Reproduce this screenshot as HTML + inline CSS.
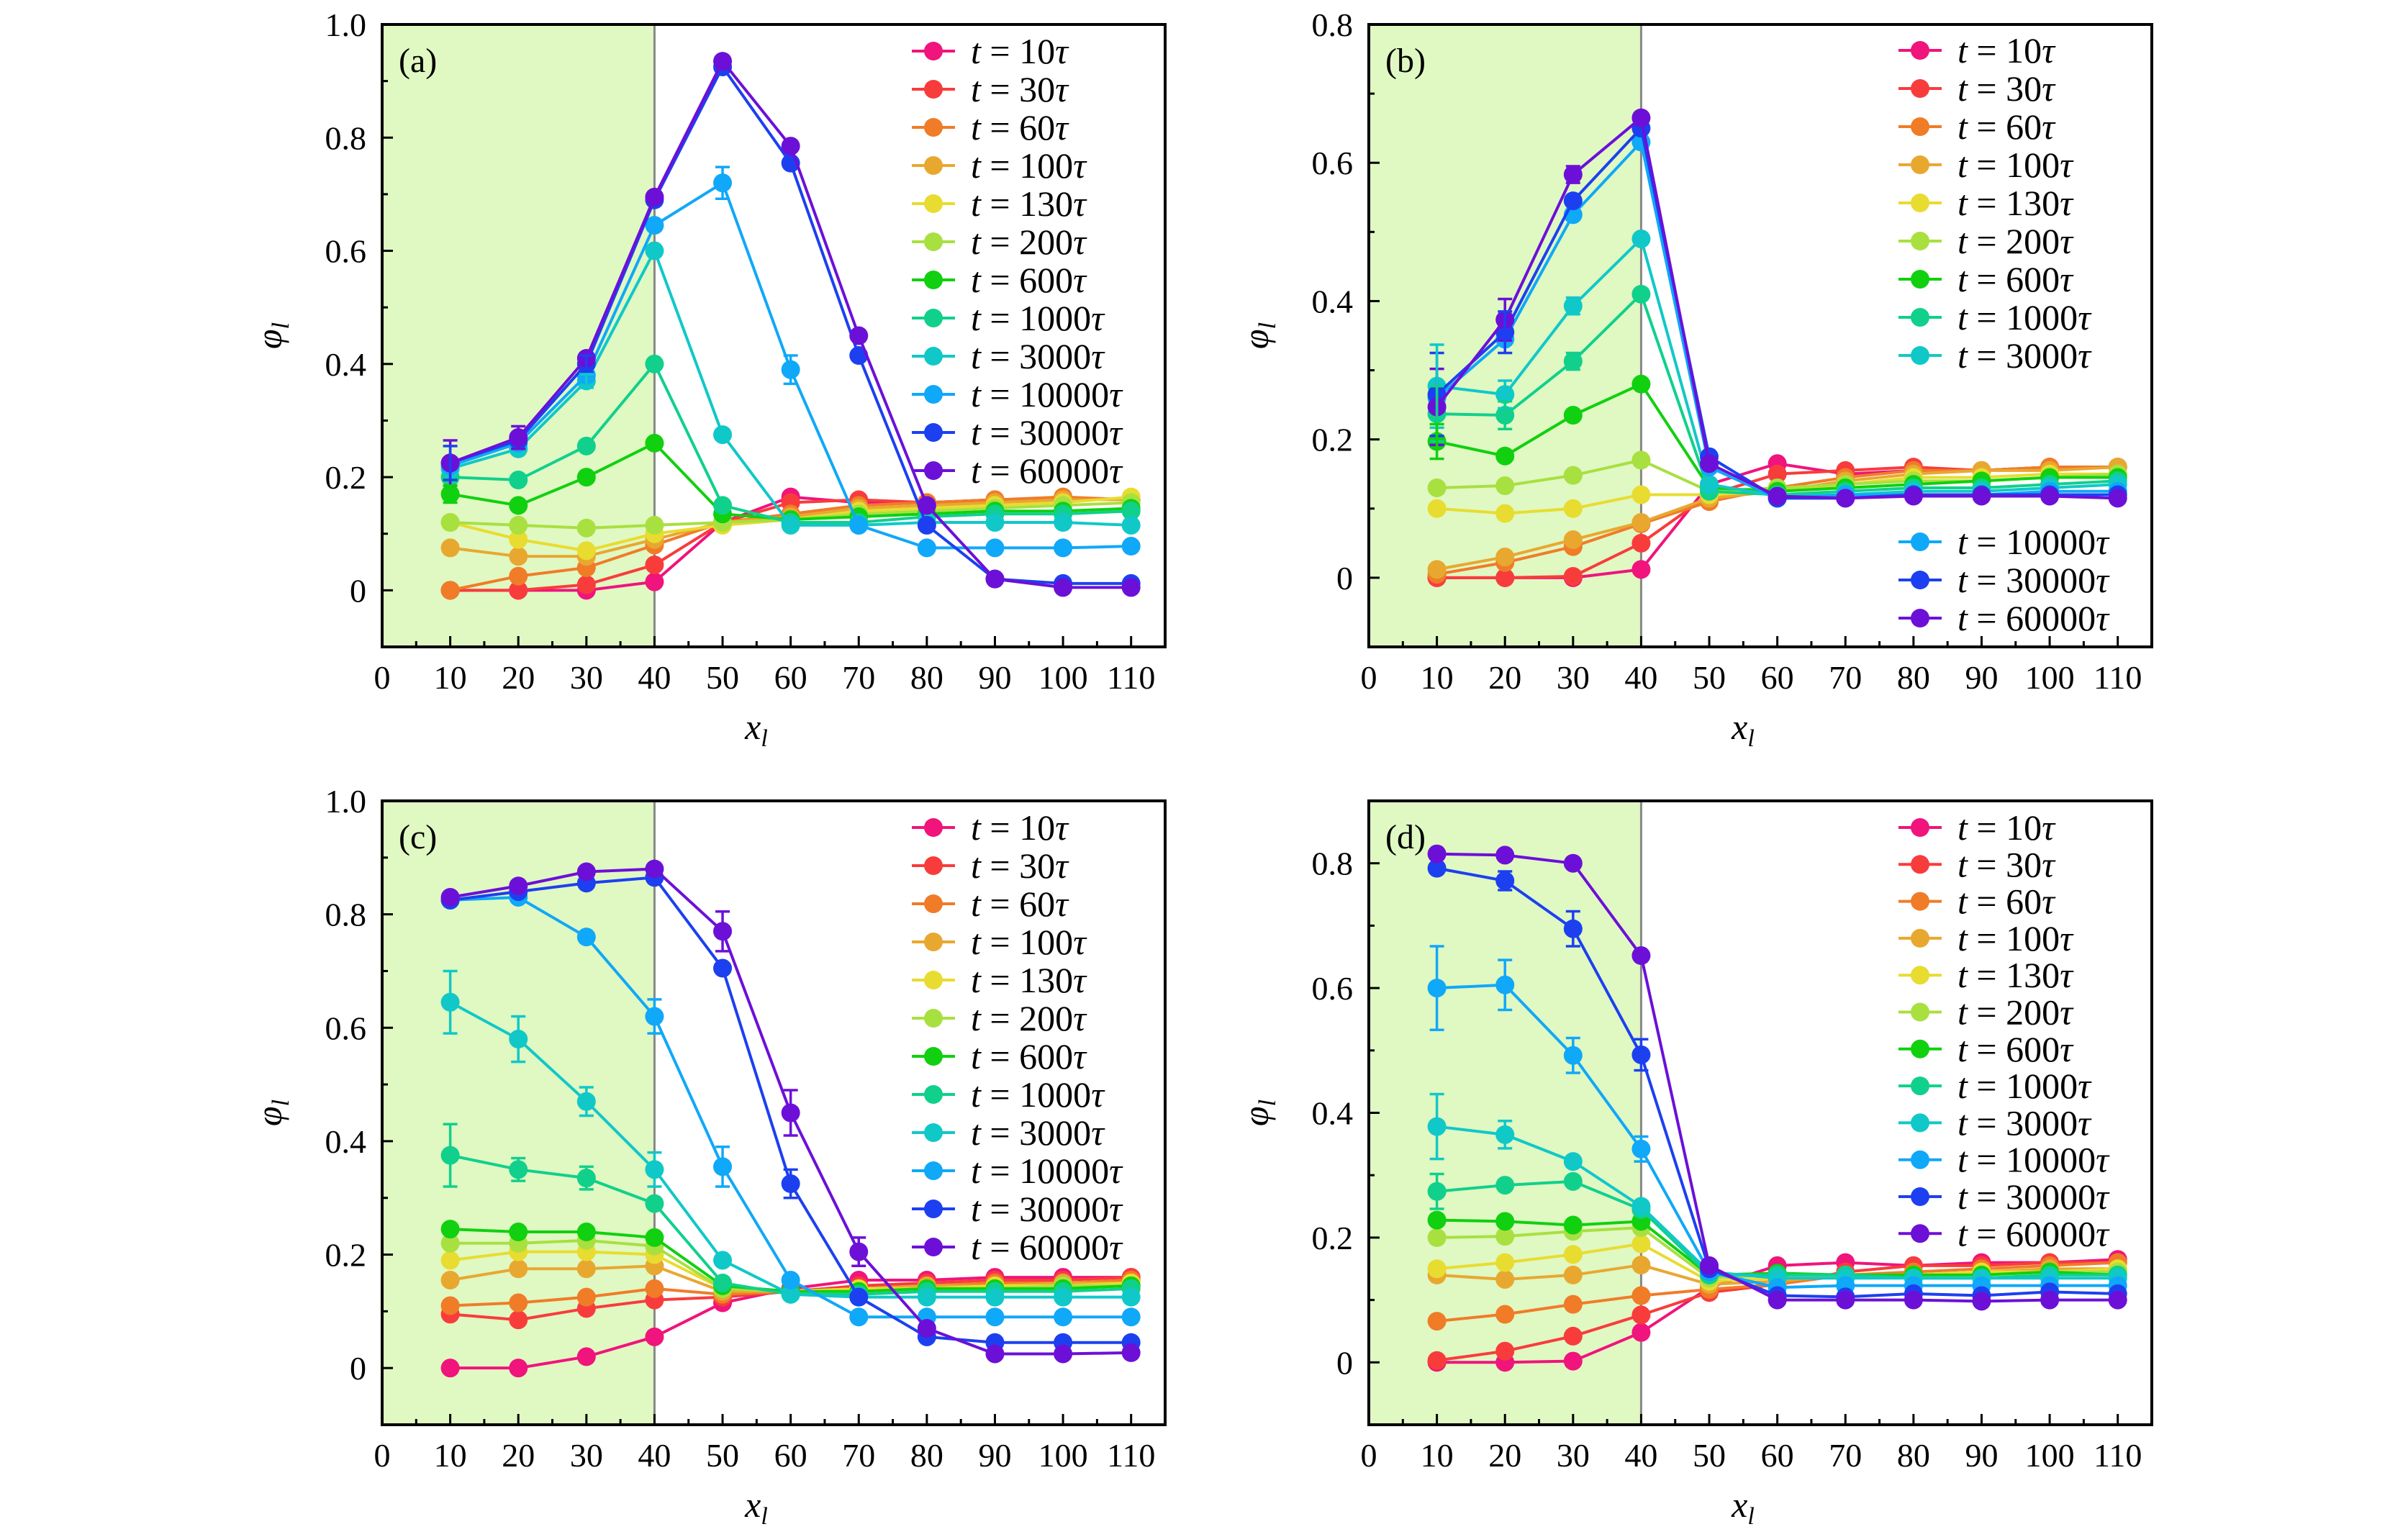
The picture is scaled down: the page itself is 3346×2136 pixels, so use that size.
<!DOCTYPE html>
<html><head><meta charset="utf-8"><style>
html,body{margin:0;padding:0;background:#fff}
svg{display:block}
text{font-family:"Liberation Serif",serif}
</style></head><body>
<svg id="fig" width="3346" height="2136" viewBox="0 0 3346 2136" xmlns="http://www.w3.org/2000/svg"></svg>
<script>
const xCats=[10,20,30,40,50,60,70,80,90,100,110];
const seriesLabels=["10","30","60","100","130","200","600","1000","3000","10000","30000","60000"];
const colors=["#f0147c","#f83c3c","#f07c28","#e8a830","#e8dc30","#a8e040","#10d010","#10d08c","#10c8c8","#10a8f8","#1c40f0","#6c10d8"];
const xTicks=[0,10,20,30,40,50,60,70,80,90,100,110];
const yTicksA=[0,0.2,0.4,0.6,0.8,1.0];
const yTicksB=[0,0.2,0.4,0.6,0.8];
const dataA=[
[0,0,0,0.015,0.12,0.165,0.155,0.155,0.16,0.16,0.16],
[0,0,0.01,0.045,0.12,0.155,0.16,0.155,0.16,0.16,0.16],
[0,0.025,0.04,0.08,0.12,0.135,0.15,0.155,0.16,0.165,0.16],
[0.075,0.06,0.06,0.09,0.12,0.13,0.145,0.15,0.155,0.16,0.16],
[0.12,0.09,0.07,0.1,0.115,0.125,0.14,0.145,0.15,0.155,0.165],
[0.12,0.115,0.11,0.115,0.12,0.125,0.135,0.14,0.145,0.15,0.155],
[0.17,0.15,0.2,0.26,0.135,0.125,0.13,0.135,0.14,0.14,0.145],
[0.2,0.195,0.255,0.4,0.15,0.12,0.12,0.13,0.135,0.135,0.14],
[0.215,0.25,0.37,0.6,0.275,0.115,0.115,0.12,0.12,0.12,0.115],
[0.22,0.26,0.38,0.645,0.72,0.39,0.115,0.075,0.075,0.075,0.078],
[0.225,0.265,0.4,0.69,0.925,0.755,0.415,0.115,0.02,0.012,0.012],
[0.225,0.27,0.41,0.695,0.935,0.785,0.45,0.15,0.02,0.005,0.005]];
const dataB=[
[0,0,0,0.012,0.135,0.165,0.15,0.155,0.155,0.16,0.16],
[0,0,0.002,0.05,0.12,0.15,0.155,0.16,0.155,0.16,0.16],
[0.005,0.022,0.045,0.078,0.11,0.13,0.145,0.155,0.155,0.16,0.16],
[0.012,0.03,0.055,0.08,0.115,0.125,0.14,0.15,0.155,0.155,0.16],
[0.1,0.093,0.1,0.12,0.12,0.125,0.135,0.145,0.145,0.15,0.15],
[0.13,0.133,0.148,0.17,0.125,0.13,0.135,0.14,0.14,0.145,0.15],
[0.197,0.176,0.235,0.28,0.13,0.125,0.13,0.135,0.14,0.145,0.145],
[0.237,0.235,0.313,0.41,0.125,0.12,0.125,0.13,0.13,0.135,0.14],
[0.277,0.265,0.393,0.49,0.135,0.118,0.12,0.125,0.125,0.13,0.135],
[0.26,0.345,0.525,0.63,0.16,0.115,0.12,0.12,0.12,0.125,0.125],
[0.265,0.355,0.545,0.65,0.175,0.115,0.115,0.12,0.12,0.12,0.12],
[0.247,0.373,0.583,0.665,0.165,0.118,0.115,0.118,0.118,0.118,0.115]];
const dataC=[
[0,0,0.02,0.055,0.115,0.14,0.155,0.155,0.16,0.16,0.16],
[0.095,0.085,0.105,0.12,0.125,0.135,0.145,0.15,0.155,0.155,0.16],
[0.11,0.115,0.125,0.14,0.13,0.135,0.14,0.145,0.15,0.15,0.155],
[0.155,0.175,0.175,0.18,0.135,0.135,0.14,0.145,0.145,0.15,0.15],
[0.19,0.205,0.205,0.2,0.14,0.135,0.14,0.14,0.145,0.145,0.15],
[0.22,0.22,0.225,0.215,0.14,0.135,0.135,0.14,0.14,0.145,0.145],
[0.245,0.24,0.24,0.23,0.145,0.135,0.135,0.14,0.14,0.14,0.145],
[0.375,0.35,0.335,0.29,0.15,0.13,0.13,0.135,0.135,0.135,0.14],
[0.645,0.58,0.47,0.35,0.19,0.13,0.125,0.125,0.125,0.125,0.125],
[0.825,0.83,0.76,0.62,0.355,0.155,0.09,0.09,0.09,0.09,0.09],
[0.825,0.84,0.855,0.865,0.705,0.325,0.125,0.055,0.045,0.045,0.045],
[0.83,0.85,0.875,0.88,0.77,0.45,0.205,0.07,0.025,0.025,0.027]];
const dataD=[
[0,0,0.002,0.048,0.12,0.155,0.16,0.155,0.16,0.16,0.165],
[0.003,0.018,0.042,0.076,0.112,0.125,0.145,0.155,0.155,0.16,0.16],
[0.066,0.077,0.093,0.107,0.117,0.125,0.14,0.145,0.15,0.155,0.16],
[0.14,0.133,0.14,0.156,0.125,0.13,0.14,0.14,0.145,0.15,0.15],
[0.15,0.16,0.173,0.19,0.13,0.135,0.14,0.14,0.145,0.145,0.15],
[0.2,0.202,0.21,0.216,0.135,0.14,0.14,0.14,0.14,0.145,0.145],
[0.228,0.226,0.22,0.226,0.14,0.143,0.14,0.14,0.14,0.145,0.14],
[0.274,0.284,0.29,0.245,0.14,0.14,0.14,0.135,0.135,0.14,0.14],
[0.378,0.365,0.322,0.25,0.145,0.135,0.135,0.135,0.135,0.135,0.135],
[0.6,0.605,0.492,0.342,0.145,0.12,0.123,0.123,0.123,0.123,0.123],
[0.792,0.772,0.695,0.493,0.15,0.107,0.105,0.11,0.107,0.113,0.11],
[0.815,0.813,0.8,0.652,0.155,0.1,0.1,0.1,0.098,0.1,0.1]];
// error bars: [series index, x index, half-width]
const errA=[[11,0,0.04],[10,0,0.03],[11,1,0.02],[10,2,0.015],[8,2,0.012],[9,4,0.028],[9,5,0.025],[6,0,0.015]];
const errB=[[11,0,0.055],[10,0,0.06],[8,0,0.06],[7,0,0.04],[6,0,0.025],[11,1,0.03],[10,1,0.03],[8,1,0.02],[7,1,0.02],[11,2,0.012],[8,2,0.012],[7,2,0.012]];
const errC=[[8,0,0.055],[7,0,0.055],[8,1,0.04],[8,2,0.025],[7,1,0.02],[7,2,0.02],[9,3,0.03],[8,3,0.03],[9,4,0.035],[11,4,0.035],[11,5,0.04],[10,5,0.025],[11,6,0.025]];
const errD=[[9,0,0.067],[9,1,0.04],[9,2,0.028],[8,0,0.052],[8,1,0.022],[7,0,0.028],[10,1,0.015],[10,2,0.028],[10,3,0.025],[9,3,0.02]];

const NS="http://www.w3.org/2000/svg";
const svg=document.getElementById('fig');
function mk(tag,attrs,parent,txt){const e=document.createElementNS(NS,tag);for(const k in attrs)e.setAttribute(k,attrs[k]);if(txt!==undefined)e.textContent=txt;(parent||svg).appendChild(e);return e;}

const panels=[
{id:'a',L:531,T:34,W:1088,H:865,ymax:1.0,data:dataA,err:errA,yt:yTicksA,leg:[[0,12,37,53]]},
{id:'b',L:1902,T:34,W:1088,H:865,ymax:0.8,data:dataB,err:errB,yt:yTicksB,leg:[[0,9,36,53],[9,12,719,53]]},
{id:'c',L:531,T:1113,W:1088,H:867,ymax:1.0,data:dataC,err:errC,yt:yTicksA,leg:[[0,12,37,53]]},
{id:'d',L:1902,T:1113,W:1088,H:867,ymax:0.9,data:dataD,err:errD,yt:yTicksB,leg:[[0,12,37,51.3]]}];

panels.forEach(p=>{
  const g=mk('g',{});
  
  
  const ymin=-0.1,xmax=115;
  const X=v=>p.L+v/xmax*p.W;
  const Y=v=>p.T+(p.ymax-v)/(p.ymax-ymin)*p.H;
  const sh=mk('rect',{x:p.L,y:p.T,width:X(40)-p.L,height:p.H,fill:'#e0f8c2'},g);
  
  
  const vl=mk('line',{x1:X(40),x2:X(40),y1:p.T,y2:p.T+p.H,stroke:'#888',"stroke-width":3},g);
  
  
  p.data.forEach((s,i)=>{
    const sg=mk('g',{},g);
    
    
    const pts=s.map((v,j)=>X(xCats[j])+','+Y(v)).join(' ');
    mk('polyline',{points:pts,fill:'none',stroke:colors[i],"stroke-width":4},sg);
    s.forEach((v,j)=>{
      const c=mk('circle',{cx:X(xCats[j]),cy:Y(v),r:13,fill:colors[i]},sg);
      
      
    });
  });
  p.err.forEach(([i,j,e])=>{
    const v=p.data[i][j],x=X(xCats[j]);
    const eg=mk('g',{stroke:colors[i],"stroke-width":3.5},g);
    
    
    mk('line',{x1:x,x2:x,y1:Y(v+e),y2:Y(v-e)},eg);
    mk('line',{x1:x-10,x2:x+10,y1:Y(v+e),y2:Y(v+e)},eg);
    mk('line',{x1:x-10,x2:x+10,y1:Y(v-e),y2:Y(v-e)},eg);
  });
  const fr=mk('rect',{x:p.L,y:p.T,width:p.W,height:p.H,fill:'none',stroke:'#000',"stroke-width":4},g);
  
  
  for(let v=5;v<=110;v+=5){
    const major=v%10===0;
    mk('line',{x1:X(v),x2:X(v),y1:p.T+p.H,y2:p.T+p.H-(major?15:8),stroke:'#000',"stroke-width":3},g);
  }
  xTicks.forEach(v=>{
    const t=mk('text',{x:X(v),y:p.T+p.H+58,"font-size":46,"text-anchor":"middle"},g,String(v));
    
    
  });
  for(let k=0;k<=Math.round(p.ymax*10);k++){
    const v=k/10,major=k%2===0;
    mk('line',{x1:p.L,x2:p.L+(major?15:8),y1:Y(v),y2:Y(v),stroke:'#000',"stroke-width":3},g);
  }
  p.yt.forEach(v=>{
    const t=mk('text',{x:p.L-22,y:Y(v)+16,"font-size":46,"text-anchor":"end"},g,v===0?'0':v.toFixed(1));
    
    
  });
  const xl=mk('text',{x:p.L+520,y:p.T+p.H+128,"font-size":50,"font-style":"italic","text-anchor":"middle"},g);
  
  
  xl.innerHTML='x<tspan font-size="34" dy="10">l</tspan>';
  const cy=p.T+p.H/2;
  const yl=mk('text',{x:p.L-140,y:cy,"font-size":50,"font-style":"italic","text-anchor":"middle",transform:`rotate(-90 ${p.L-140} ${cy})`},g);
  
  
  yl.innerHTML='φ<tspan font-size="34" dy="10">l</tspan>';
  const pl=mk('text',{x:p.L+23,y:p.T+66,"font-size":48},g,'('+p.id+')');
  
  
  p.leg.forEach(([a,b,off,sp])=>{
    const lg=mk('g',{},g);
    
    
    for(let i=a;i<b;i++){
      const y=p.T+off+(i-a)*sp;
      const e=mk('g',{},lg);
      
      
      mk('line',{x1:p.L+736,x2:p.L+796,y1:y,y2:y,stroke:colors[i],"stroke-width":4},e);
      mk('circle',{cx:p.L+766,cy:y,r:13,fill:colors[i]},e);
      const t=mk('text',{x:p.L+818,y:y+17,"font-size":50},e);
      t.innerHTML='<tspan font-style="italic">t</tspan> = '+seriesLabels[i]+'<tspan font-style="italic">τ</tspan>';
    }
  });
});
</script>
</body></html>
